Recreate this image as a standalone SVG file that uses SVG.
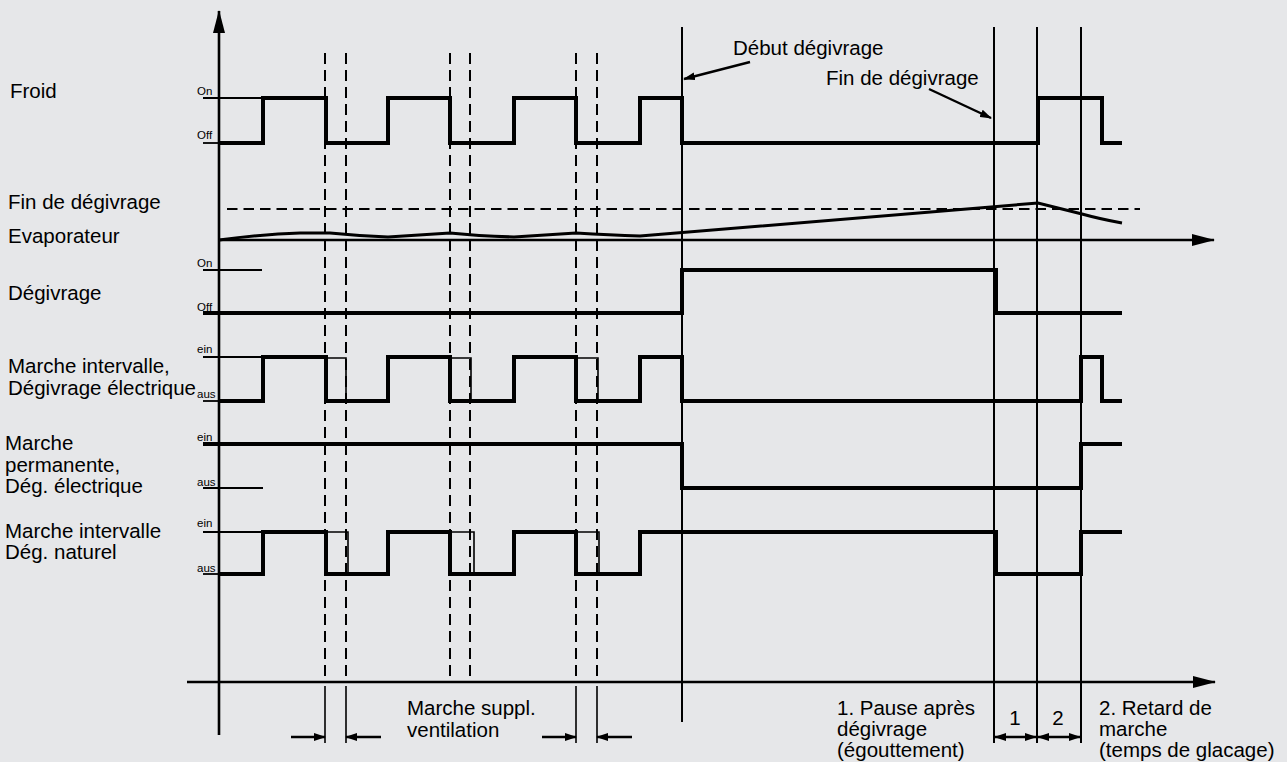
<svg xmlns="http://www.w3.org/2000/svg" width="1287" height="762" viewBox="0 0 1287 762">
<style>
text{font-family:"Liberation Sans",Arial,sans-serif;fill:#000}
.lbl{font-size:20.5px}
.sm{font-size:11.5px}
.sig{fill:none;stroke:#000;stroke-width:4;stroke-linejoin:miter}
.thin{fill:none;stroke:#000;stroke-width:1.6}
.tick{fill:none;stroke:#000;stroke-width:1.8}
.dash{fill:none;stroke:#000;stroke-width:2;stroke-dasharray:11 6}
.vl{fill:none;stroke:#000;stroke-width:2}
.ax{fill:none;stroke:#000;stroke-width:2.6}
.arr{fill:none;stroke:#000;stroke-width:2.4}
</style>
<defs>
<marker id="axHead" markerUnits="userSpaceOnUse" markerWidth="23" markerHeight="12" refX="22" refY="6" orient="auto">
<path d="M0,0 L23,6 L0,12 z" fill="#000"/>
</marker>
<marker id="smHead" markerUnits="userSpaceOnUse" markerWidth="12" markerHeight="8" refX="11" refY="4" orient="auto-start-reverse">
<path d="M0,0 L12,4 L0,8 z" fill="#000"/>
</marker>
</defs>
<rect width="1287" height="762" fill="#e6e7e9"/>

<g id="axes">
<line class="ax" x1="219" y1="735" x2="219" y2="11" marker-end="url(#axHead)"/>
<line class="ax" x1="219" y1="240" x2="1214" y2="240" marker-end="url(#axHead)"/>
<line class="ax" x1="187" y1="682" x2="1215" y2="682" marker-end="url(#axHead)"/>
</g>

<g id="guides">
<line class="dash" x1="325" y1="53" x2="325" y2="682"/>
<line class="dash" x1="346" y1="53" x2="346" y2="682"/>
<line class="dash" x1="450" y1="53" x2="450" y2="682"/>
<line class="dash" x1="470" y1="53" x2="470" y2="682"/>
<line class="dash" x1="576" y1="53" x2="576" y2="682"/>
<line class="dash" x1="597" y1="53" x2="597" y2="682"/>
<line class="thin" x1="325" y1="686" x2="325" y2="743"/>
<line class="thin" x1="346" y1="686" x2="346" y2="743"/>
<line class="thin" x1="576" y1="686" x2="576" y2="743"/>
<line class="thin" x1="597" y1="686" x2="597" y2="743"/>
<line class="vl" x1="682" y1="27" x2="682" y2="722"/>
<line class="vl" x1="994" y1="27" x2="994" y2="743"/>
<line class="vl" x1="1037" y1="27" x2="1037" y2="743"/>
<line class="vl" x1="1081" y1="27" x2="1081" y2="743"/>
<line class="dash" x1="227" y1="209" x2="1140" y2="209" style="stroke-dasharray:10.5 6"/>
</g>

<g id="froid">
<text class="lbl" x="10" y="98">Froid</text>
<text class="sm" x="197" y="95">On</text>
<text class="sm" x="197" y="139">Off</text>
<line class="tick" x1="203" y1="98" x2="263" y2="98"/>
<line class="tick" x1="203" y1="143" x2="219" y2="143"/>
<polyline class="sig" points="219,143 263,143 263,98 326,98 326,143 388,143 388,98 450,98 450,143 514,143 514,98 576,98 576,143 640,143 640,98 682,98 682,143 1038,143 1038,98 1102,98 1102,143 1122,143"/>
</g>

<g id="evaporateur">
<text class="lbl" x="8" y="209">Fin de dégivrage</text>
<text class="lbl" x="8" y="243">Evaporateur</text>
<path d="M219,240 Q265,234 300,233 L330,233 Q360,236 388,237 Q420,235 450,233 Q480,236 514,237 Q545,235 576,233 Q610,235 640,236 L1038,203 L1082,214 Q1100,219 1122,223" fill="none" stroke="#000" stroke-width="3"/>
</g>

<g id="degivrage">
<text class="lbl" x="8" y="300">Dégivrage</text>
<text class="sm" x="197" y="267">On</text>
<text class="sm" x="197" y="311">Off</text>
<line class="tick" x1="203" y1="270" x2="262" y2="270"/>
<polyline class="sig" points="203,313 682,313 682,270 996,270 996,313 1122,313"/>
</g>

<g id="marche-intervalle-electrique">
<text class="lbl" x="8" y="373">Marche intervalle,</text>
<text class="lbl" x="8" y="395">Dégivrage électrique</text>
<text class="sm" x="197" y="353">ein</text>
<text class="sm" x="197" y="398">aus</text>
<line class="tick" x1="203" y1="357" x2="263" y2="357"/>
<line class="tick" x1="203" y1="401" x2="219" y2="401"/>
<polyline class="sig" points="219,401 263,401 263,357 326,357 326,401 388,401 388,357 450,357 450,401 514,401 514,357 576,357 576,401 640,401 640,357 682,357 682,401 1081,401 1081,357 1102,357 1102,401 1122,401"/>
<polyline class="thin" points="326,358 346,358 346,401"/>
<polyline class="thin" points="450,358 471,358 471,401"/>
<polyline class="thin" points="576,358 598,358 598,401"/>
</g>

<g id="marche-permanente">
<text class="lbl" x="5" y="450">Marche</text>
<text class="lbl" x="5" y="472">permanente,</text>
<text class="lbl" x="5" y="493">Dég. électrique</text>
<text class="sm" x="197" y="441">ein</text>
<text class="sm" x="197" y="486">aus</text>
<line class="tick" x1="203" y1="488" x2="263" y2="488"/>
<polyline class="sig" points="203,444 682,444 682,488 1081,488 1081,444 1122,444"/>
</g>

<g id="marche-intervalle-naturel">
<text class="lbl" x="5" y="538">Marche intervalle</text>
<text class="lbl" x="5" y="559">Dég. naturel</text>
<text class="sm" x="197" y="527">ein</text>
<text class="sm" x="197" y="572">aus</text>
<line class="tick" x1="203" y1="532" x2="263" y2="532"/>
<line class="tick" x1="203" y1="574" x2="219" y2="574"/>
<polyline class="sig" points="219,574 263,574 263,532 326,532 326,574 388,574 388,532 450,532 450,574 514,574 514,532 576,532 576,574 640,574 640,532 996,532 996,574 1081,574 1081,532 1122,532"/>
<polyline class="thin" points="326,532 348,532 348,574"/>
<polyline class="thin" points="450,532 474,532 474,574"/>
<polyline class="thin" points="576,532 599,532 599,574"/>
</g>

<g id="annotations">
<text class="lbl" x="733" y="55">Début dégivrage</text>
<text class="lbl" x="826" y="85">Fin de dégivrage</text>
<text class="lbl" x="407" y="715">Marche suppl.</text>
<text class="lbl" x="407" y="737">ventilation</text>
<text class="lbl" x="837" y="715">1. Pause après</text>
<text class="lbl" x="837" y="736">dégivrage</text>
<text class="lbl" x="837" y="757">(égouttement)</text>
<text class="lbl" x="1099" y="715">2. Retard de</text>
<text class="lbl" x="1099" y="736">marche</text>
<text class="lbl" x="1099" y="757">(temps de glacage)</text>
<text class="lbl" x="1015" y="725" text-anchor="middle">1</text>
<text class="lbl" x="1058" y="725" text-anchor="middle">2</text>
</g>

<g id="connectors">
<line class="arr" x1="750" y1="62" x2="684" y2="79" marker-end="url(#smHead)"/>
<line class="arr" x1="929" y1="89" x2="991" y2="118" marker-end="url(#smHead)"/>
<line class="arr" x1="291" y1="737" x2="325" y2="737" marker-end="url(#smHead)"/>
<line class="arr" x1="381" y1="737" x2="346" y2="737" marker-end="url(#smHead)"/>
<line class="arr" x1="542" y1="737" x2="576" y2="737" marker-end="url(#smHead)"/>
<line class="arr" x1="632" y1="737" x2="597" y2="737" marker-end="url(#smHead)"/>
<line class="arr" x1="995" y1="737" x2="1036" y2="737" marker-start="url(#smHead)" marker-end="url(#smHead)"/>
<line class="arr" x1="1038" y1="737" x2="1080" y2="737" marker-start="url(#smHead)" marker-end="url(#smHead)"/>
</g>
</svg>
